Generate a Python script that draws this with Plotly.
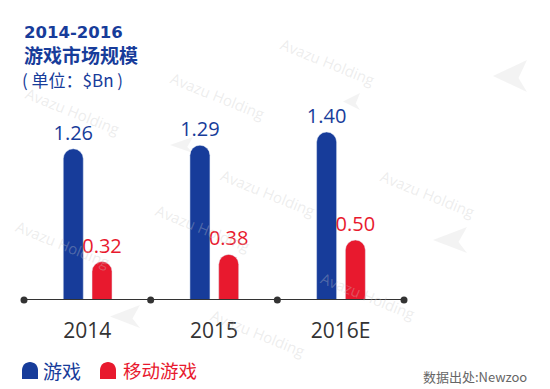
import plotly.graph_objects as go

# ---- data ----
categories = ["2014", "2015", "2016E"]
games = [1.26, 1.29, 1.40]
mobile_games = [0.32, 0.38, 0.50]
series_names = ["游戏", "移动游戏"]

BLUE = "#173c9a"
RED = "#e8192e"
DARK = "#333333"

W, H = 550, 389
L, R, T, B = 24, 146, 100, 89
PW, PH = W - L - R, H - T - B


def px(x):
    return (x - L) / PW


def py(y):
    return (T + PH - y) / PH


idx = list(range(len(categories)))
bounds = [i - 0.5 for i in range(len(categories) + 1)]

fig = go.Figure()

fig.add_trace(go.Bar(
    x=idx, y=games, name=series_names[0],
    offset=-0.19, width=0.158,
    marker=dict(color=BLUE, cornerradius=10),
    text=[f"{v:.2f}" for v in games], textposition="outside", constraintext="none",
    textfont=dict(family="Open Sans", size=20, color=BLUE),
    cliponaxis=False, showlegend=False,
))
fig.add_trace(go.Bar(
    x=idx, y=mobile_games, name=series_names[1],
    offset=0.037, width=0.158,
    marker=dict(color=RED, cornerradius=10),
    text=[f"{v:.2f}" for v in mobile_games], textposition="outside", constraintext="none",
    textfont=dict(family="Open Sans", size=20, color=RED),
    cliponaxis=False, showlegend=False,
))
# axis line with dots at category boundaries
fig.add_trace(go.Scatter(
    x=bounds, y=[0] * len(bounds), mode="lines+markers",
    line=dict(color=DARK, width=2), marker=dict(color=DARK, size=7),
    cliponaxis=False, showlegend=False, hoverinfo="skip",
))

annotations = []
shapes = []

# watermarks
wm = [(381, 31), (218, 65), (481, 163), (321, 193), (150, 228), (421, 327),
      (258, 364), (10, 275), (20, 80)]
for (cx, cy) in wm:
    annotations.append(dict(
        text="Avazu Holding", xref="paper", yref="paper", x=px(cx), y=py(cy),
        showarrow=False, textangle=22,
        font=dict(family="Open Sans", size=15, color="rgba(200,200,200,0.33)"),
    ))

planes = [(493, 527, 60, 92), (433, 467, 227, 253), (170, 193, 137, 153),
          (110, 140, 305, 328), (343, 360, 93, 110)]
for (x0, x1, y0, y1) in planes:
    ym = (y0 + y1) / 2
    path = (f"M {px(x0)},{py(ym)} L {px(x1)},{py(y0)} L {px(x1 - (x1 - x0) * 0.25)},{py(ym + 2)} "
            f"L {px(x1)},{py(y1)} Z")
    shapes.append(dict(type="path", path=path, xref="paper", yref="paper",
                       fillcolor="rgba(225,225,225,0.4)", line=dict(width=0), layer="below"))

# titles
annotations += [
    dict(text="<b>2014-2016</b>", xref="paper", yref="paper", x=px(22), y=py(32.5),
         xanchor="left", yanchor="middle", showarrow=False,
         font=dict(family="DejaVu Sans", size=16.5, color=BLUE)),
    dict(text="<b>游戏市场规模</b>", xref="paper", yref="paper", x=px(22), y=py(54),
         xanchor="left", yanchor="middle", showarrow=False,
         font=dict(family="Noto Sans CJK SC", size=19, color=BLUE)),
    dict(text="( 单位：$Bn )", xref="paper", yref="paper", x=px(20), y=py(79),
         xanchor="left", yanchor="middle", showarrow=False,
         font=dict(family="Noto Sans CJK SC", size=17, color=BLUE)),
]


def rounded_icon(x0, x1, y0, y1):
    r = (x1 - x0) / 2
    k = 0.5523 * r
    xm = (x0 + x1) / 2
    ym = y0 + r
    return (f"M {px(x0)},{py(y1)} L {px(x0)},{py(ym)} "
            f"C {px(x0)},{py(ym - k)} {px(xm - k)},{py(y0)} {px(xm)},{py(y0)} "
            f"C {px(xm + k)},{py(y0)} {px(x1)},{py(ym - k)} {px(x1)},{py(ym)} "
            f"L {px(x1)},{py(y1)} Z")


# legend
shapes.append(dict(type="path", path=rounded_icon(22, 38, 362, 379), xref="paper", yref="paper",
                   fillcolor=BLUE, line=dict(width=0)))
shapes.append(dict(type="path", path=rounded_icon(100, 116, 362, 379), xref="paper", yref="paper",
                   fillcolor=RED, line=dict(width=0)))
annotations += [
    dict(text=series_names[0], xref="paper", yref="paper", x=px(41), y=py(370),
         xanchor="left", yanchor="middle", showarrow=False,
         font=dict(family="Noto Sans CJK SC", size=19, color=BLUE)),
    dict(text=series_names[1], xref="paper", yref="paper", x=px(121), y=py(370),
         xanchor="left", yanchor="middle", showarrow=False,
         font=dict(family="Noto Sans CJK SC", size=18.5, color=RED)),
    dict(text="数据出处:Newzoo", xref="paper", yref="paper", x=px(529), y=py(376),
         xanchor="right", yanchor="middle", showarrow=False,
         font=dict(family="Noto Sans CJK SC", size=13, color="#666666")),
]

fig.update_layout(
    width=W, height=H,
    margin=dict(l=L, r=R, t=T, b=B),
    paper_bgcolor="white", plot_bgcolor="white",
    barmode="overlay",
    xaxis=dict(range=[-0.5, 2.5], tickvals=idx, ticktext=categories,
               showgrid=False, zeroline=False, showline=False,
               ticks="outside", ticklen=12, tickcolor="rgba(0,0,0,0)",
               tickfont=dict(family="Open Sans", size=21, color=DARK), fixedrange=True),
    yaxis=dict(range=[0, PH / 120.0], visible=False, showgrid=False, zeroline=False,
               fixedrange=True),
    annotations=annotations,
    shapes=shapes,
    showlegend=False,
)

fig.write_html("out.html", config={"displayModeBar": False},
               post_script="document.body.style.margin='0';document.body.style.padding='0';")
